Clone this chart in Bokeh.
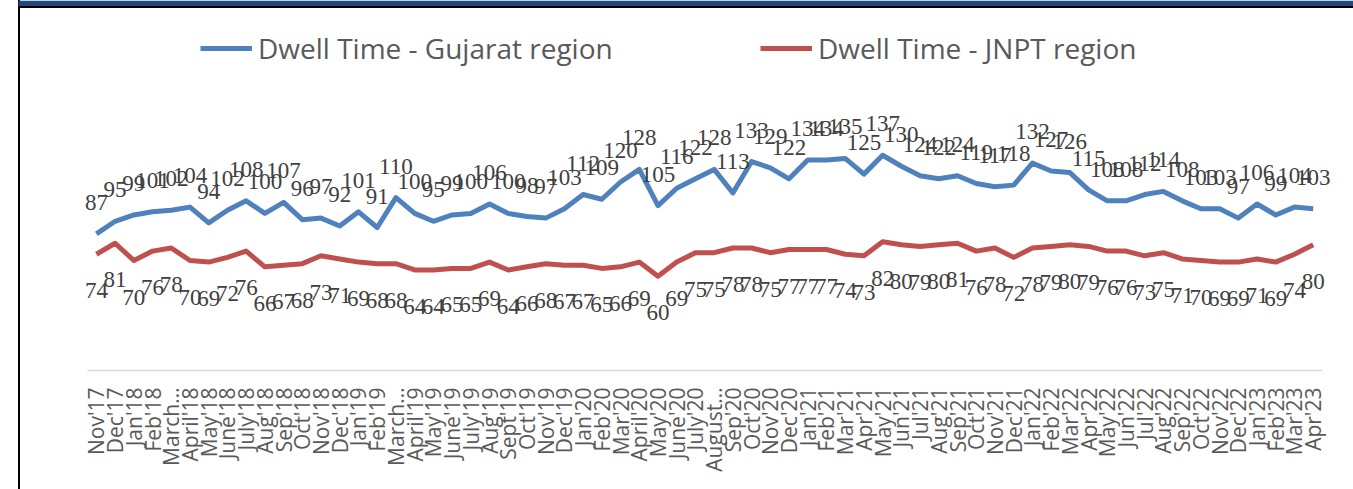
import math
from bokeh.plotting import figure
from bokeh.models import (Range1d, FixedTicker, LinearAxis, LabelSet, ColumnDataSource,
                          Legend, LegendItem, BoxAnnotation)
from bokeh.embed import file_html
from bokeh.resources import INLINE

months = ["Nov'17", "Dec'17", "Jan'18", "Feb'18", "March…", "April'18", "May'18", "June'18",
          "July'18", "Aug'18", "Sep'18", "Oct'18", "Nov'18", "Dec'18", "Jan'19", "Feb'19",
          "March…", "April'19", "May'19", "June'19", "July'19", "Aug'19", "Sept'19", "Oct'19",
          "Nov'19", "Dec'19", "Jan'20", "Feb'20", "Mar'20", "April'20", "May'20", "June'20",
          "July'20", "August…", "Sep'20", "Oct'20", "Nov'20", "Dec'20", "Jan'21", "Feb'21",
          "Mar'21", "Apr'21", "May'21", "Jun'21", "Jul'21", "Aug'21", "Sep'21", "Oct'21",
          "Nov'21", "Dec'21", "Jan'22", "Feb'22", "Mar'22", "Apr'22", "May'22", "Jun'22",
          "Jul'22", "Aug'22", "Sep'22", "Oct'22", "Nov'22", "Dec'22", "Jan'23", "Feb'23",
          "Mar'23", "Apr'23"]

gujarat = [87, 95, 99, 101, 102, 104, 94, 102, 108, 100, 107, 96, 97, 92, 101, 91,
           110, 100, 95, 99, 100, 106, 100, 98, 97, 103, 112, 109, 120, 128, 105, 116,
           122, 128, 113, 133, 129, 122, 134, 134, 135, 125, 137, 130, 124, 122, 124, 119,
           117, 118, 132, 127, 126, 115, 108, 108, 112, 114, 108, 103, 103, 97, 106, 99,
           104, 103]

jnpt = [74, 81, 70, 76, 78, 70, 69, 72, 76, 66, 67, 68, 73, 71, 69, 68,
        68, 64, 64, 65, 65, 69, 64, 66, 68, 67, 67, 65, 66, 69, 60, 69,
        75, 75, 78, 78, 75, 77, 77, 77, 74, 73, 82, 80, 79, 80, 81, 76,
        78, 72, 78, 79, 80, 79, 76, 76, 73, 75, 71, 70, 69, 69, 71, 69,
        74, 80]

series_names = ["Dwell Time - Gujarat region", "Dwell Time - JNPT region"]

BLUE = "#4F81BD"
RED = "#C0504D"

W, H = 1353, 489
frame_h = 370
px_per_x = 18.72
px_per_y = 1.571
x0 = -95.9 / px_per_x


def ys(py):
    # image pixel row (from top) -> y data value
    return (frame_h - py) / px_per_y


def xs(px):
    return x0 + px / px_per_x


idx = list(range(len(months)))
src = ColumnDataSource(dict(x=idx, g=gujarat, j=jnpt,
                            gl=[str(v) for v in gujarat], jl=[str(v) for v in jnpt]))

p = figure(width=W, height=H, output_backend="svg", toolbar_location=None,
           x_range=Range1d(x0, x0 + W / px_per_x),
           y_range=Range1d(0, frame_h / px_per_y),
           x_axis_location=None, y_axis_location=None,
           min_border_left=0, min_border_right=0, min_border_top=0,
           min_border_bottom=H - frame_h)
p.outline_line_color = None
p.xgrid.visible = False
p.ygrid.visible = False
p.background_fill_color = None
p.border_fill_color = None
p.styles = {"background": "linear-gradient(to right, white 18px, black 18px, black 20px, white 20px)"}

# document frame decorations (navy band and black rule at the top)
p.add_layout(BoxAnnotation(left=xs(18), bottom=ys(5.5), fill_color="#1F497D",
                           fill_alpha=1, line_color=None))
p.add_layout(BoxAnnotation(left=xs(18), bottom=ys(7.5), top=ys(5.5), fill_color="black",
                           fill_alpha=1, line_color=None))

xaxis = LinearAxis(ticker=FixedTicker(ticks=idx),
                   major_label_overrides={i: m for i, m in enumerate(months)})
xaxis.bounds = (-0.5, len(months) - 0.5)
xaxis.axis_line_color = "#D9D9D9"
xaxis.axis_line_width = 1.5
xaxis.major_tick_line_color = None
xaxis.minor_tick_line_color = None
xaxis.major_tick_out = 0
xaxis.major_tick_in = 0
xaxis.major_label_orientation = math.pi / 2
xaxis.major_label_standoff = 17
xaxis.major_label_text_font = "Open Sans"
xaxis.major_label_text_font_size = "21px"
xaxis.major_label_text_color = "#595959"
p.add_layout(xaxis, "below")

r1 = p.line("x", "g", source=src, line_color=BLUE, line_width=5, line_join="round")
r2 = p.line("x", "j", source=src, line_color=RED, line_width=5, line_join="round")

lab_g = LabelSet(x="x", y="g", text="gl", source=src, text_align="center",
                 text_baseline="alphabetic", y_offset=24, text_font="Open Sans",
                 text_font_size="23px", text_color="#404040")
lab_j = LabelSet(x="x", y="j", text="jl", source=src, text_align="center",
                 text_baseline="alphabetic", y_offset=-44, text_font="Open Sans",
                 text_font_size="23px", text_color="#404040")
p.add_layout(lab_g)
p.add_layout(lab_j)

for r, name, lx in [(r1, series_names[0], 200), (r2, series_names[1], 760)]:
    leg = Legend(items=[LegendItem(label=name, renderers=[r])], orientation="horizontal",
                 location=(lx, frame_h - 52 - 15), padding=0, margin=0, glyph_width=52,
                 glyph_height=28, label_standoff=6, label_height=28,
                 label_text_font="Open Sans", label_text_font_size="28px",
                 label_text_color="#595959", border_line_color=None,
                 background_fill_alpha=0)
    p.add_layout(leg)

open("out.html", "w").write(file_html(p, INLINE))
